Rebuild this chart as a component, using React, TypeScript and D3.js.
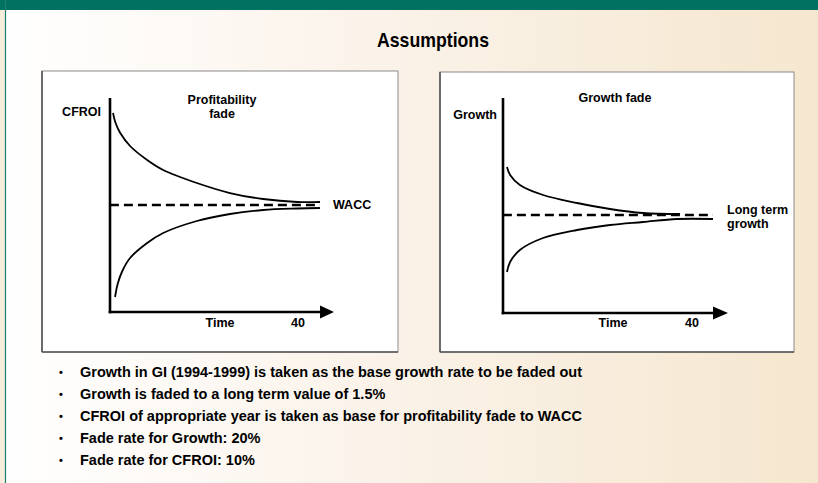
import React from "react";
import * as d3 from "d3";

const W = 818;
const H = 483;

// Profitability fade (CFROI), arbitrary units relative to WACC = 0
const cfroiHighTime = [0, 0.5, 1.4, 3.3, 6.6, 9.7, 16.2, 22.6, 29, 35.6, 40];
const cfroiHigh = [9.2, 8.2, 7.2, 5.9, 4.5, 3.5, 2.2, 1.2, 0.6, 0.3, 0.3];
const cfroiLowTime = [0.4, 0.9, 1.8, 3.3, 6.6, 9.7, 16.2, 22.6, 29, 35.6, 40];
const cfroiLow = [-9.2, -7.9, -6.6, -5.3, -3.8, -2.8, -1.6, -0.9, -0.5, -0.35, -0.3];
const waccLevel = [0, 0];
const waccTime = [-0.6, 40];

// Growth fade, arbitrary units relative to long term growth = 0
const growthHighTime = [0, 0.6, 2.5, 7, 13.6, 20, 26.4, 33.6];
const growthHigh = [4.8, 4.0, 3.0, 2.0, 1.2, 0.6, 0.2, 0.1];
const growthLowTime = [0, 0.6, 2.5, 7, 13.6, 20, 26.4, 33, 40];
const growthLow = [-5.7, -4.7, -3.5, -2.3, -1.5, -1.0, -0.7, -0.4, -0.4];
const ltLevel = [0, 0];
const ltTime = [-0.8, 40];

const title = "Assumptions";
const bullets = [
  "Growth in GI (1994-1999) is taken as the base growth rate to be faded out",
  "Growth is faded to a long term value of 1.5%",
  "CFROI of appropriate year is taken as base for profitability fade to WACC",
  "Fade rate for Growth: 20%",
  "Fade rate for CFROI: 10%",
];
const xTickLabel = "40";

const FONT = "'Liberation Sans', Arial, Helvetica, sans-serif";

type PanelProps = {
  box: [number, number, number, number];
  axisX: number;
  axisTop: number;
  axisY: number;
  arrowBase: number;
  arrowTip: number;
  xRange: [number, number];
  zeroY: number;
  highT: number[];
  highV: number[];
  lowT: number[];
  lowV: number[];
  refT: number[];
  refV: number[];
  yLabel: string;
  yLabelEnd: number;
  yLabelY: number;
  titleLines: string[];
  titleX: number;
  titleY: number;
  refLabelLines: string[];
  refLabelX: number;
  refLabelY: number;
  timeX: number;
  fortyX: number;
  labelRowY: number;
};

function Panel(p: PanelProps) {
  const x = d3.scaleLinear().domain([0, 40]).range(p.xRange);
  const y = d3.scaleLinear().domain([-10, 10]).range([p.zeroY + 100, p.zeroY - 100]);
  const line = d3
    .line<[number, number]>()
    .x((d) => x(d[0]))
    .y((d) => y(d[1]))
    .curve(d3.curveCatmullRom.alpha(0.5));
  const zip = (t: number[], v: number[]) => t.map((tt, i) => [tt, v[i]] as [number, number]);
  const [bx, by, bw, bh] = p.box;
  const fs = 12.5;
  return (
    <g>
      <rect x={bx} y={by} width={bw} height={bh} fill="#ffffff" stroke="#8a8a8a" strokeWidth={1} />
      <line x1={bx} y1={by} x2={bx} y2={by + bh} stroke="#555" strokeWidth={1.6} />
      <line x1={bx} y1={by + bh} x2={bx + bw} y2={by + bh} stroke="#555" strokeWidth={1.6} />
      {/* axes */}
      <line x1={p.axisX} y1={p.axisTop} x2={p.axisX} y2={p.axisY + 1.3} stroke="#000" strokeWidth={2.6} />
      <line x1={p.axisX - 1.3} y1={p.axisY} x2={p.arrowBase + 1} y2={p.axisY} stroke="#000" strokeWidth={2.6} />
      <path
        d={`M${p.arrowBase},${p.axisY - 6.5} L${p.arrowTip},${p.axisY} L${p.arrowBase},${p.axisY + 6.5} Z`}
        fill="#000"
      />
      {/* curves */}
      <path d={line(zip(p.refT, p.refV)) || ""} fill="none" stroke="#000" strokeWidth={2.6} strokeDasharray="9,5" />
      <path d={line(zip(p.highT, p.highV)) || ""} fill="none" stroke="#000" strokeWidth={1.8} />
      <path d={line(zip(p.lowT, p.lowV)) || ""} fill="none" stroke="#000" strokeWidth={1.8} />
      {/* labels */}
      <g fontFamily={FONT} fontWeight="bold" fontSize={fs} fill="#000">
        <text x={p.yLabelEnd} y={p.yLabelY} dy="0.35em" textAnchor="end">
          {p.yLabel}
        </text>
        {p.titleLines.map((t, i) => (
          <text key={i} x={p.titleX} y={p.titleY + i * 13.5} dy="0.35em" textAnchor="middle">
            {t}
          </text>
        ))}
        {p.refLabelLines.map((t, i) => (
          <text key={i} x={p.refLabelX} y={p.refLabelY + i * 14} dy="0.35em" textAnchor="start">
            {t}
          </text>
        ))}
        <text x={p.timeX} y={p.labelRowY} dy="0.35em" textAnchor="middle">
          Time
        </text>
        <text x={p.fortyX} y={p.labelRowY} dy="0.35em" textAnchor="middle">
          {xTickLabel}
        </text>
      </g>
    </g>
  );
}

export default function App() {
  return (
    <div style={{ position: "absolute", left: 0, top: 0, width: W, height: H }}>
      <svg width={W} height={H} viewBox={`0 0 ${W} ${H}`} style={{ display: "block" }}>
        <defs>
          <linearGradient id="bg" x1="0" y1="0" x2="1" y2="0">
            <stop offset="0" stopColor="#ffffff" />
            <stop offset="0.45" stopColor="#fbf3ea" />
            <stop offset="1" stopColor="#f5e7cf" />
          </linearGradient>
        </defs>
        <rect x={0} y={0} width={W} height={H} fill="url(#bg)" />
        <rect x={0} y={0} width={5} height={H} fill="#f6ecdc" />
        <rect x={0} y={0} width={W} height={10} fill="#017261" />
        <line x1={5.5} y1={0} x2={5.5} y2={H} stroke="#1f7d6c" strokeWidth={1.2} />

        <text
          x={433}
          y={40}
          dy="0.35em"
          textAnchor="middle"
          fontFamily={FONT}
          fontWeight="bold"
          fontSize={21}
          textLength={112}
          lengthAdjust="spacingAndGlyphs"
          fill="#000"
        >
          {title}
        </text>

        <Panel
          box={[42, 71, 356, 281]}
          axisX={110}
          axisTop={98}
          axisY={312}
          arrowBase={320}
          arrowTip={334}
          xRange={[113, 320]}
          zeroY={205}
          highT={cfroiHighTime}
          highV={cfroiHigh}
          lowT={cfroiLowTime}
          lowV={cfroiLow}
          refT={waccTime}
          refV={waccLevel}
          yLabel="CFROI"
          yLabelEnd={101}
          yLabelY={112}
          titleLines={["Profitability", "fade"]}
          titleX={222}
          titleY={100}
          refLabelLines={["WACC"]}
          refLabelX={333}
          refLabelY={205}
          timeX={220}
          fortyX={298}
          labelRowY={323}
        />
        <Panel
          box={[440, 72, 354, 280]}
          axisX={503}
          axisTop={98}
          axisY={313}
          arrowBase={713}
          arrowTip={728}
          xRange={[507, 713]}
          zeroY={215}
          highT={growthHighTime}
          highV={growthHigh}
          lowT={growthLowTime}
          lowV={growthLow}
          refT={ltTime}
          refV={ltLevel}
          yLabel="Growth"
          yLabelEnd={497}
          yLabelY={115}
          titleLines={["Growth fade"]}
          titleX={615}
          titleY={98}
          refLabelLines={["Long term", "growth"]}
          refLabelX={727}
          refLabelY={210}
          timeX={613}
          fortyX={692}
          labelRowY={323}
        />

        <g fontFamily={FONT} fontWeight="bold" fontSize={14.5} fill="#000">
          {bullets.map((b, i) => (
            <g key={i}>
              <text x={61} y={372 + i * 22} dy="0.35em" textAnchor="middle" fontSize={11}>
                •
              </text>
              <text x={80} y={372 + i * 22} dy="0.35em">
                {b}
              </text>
            </g>
          ))}
        </g>
      </svg>
    </div>
  );
}
